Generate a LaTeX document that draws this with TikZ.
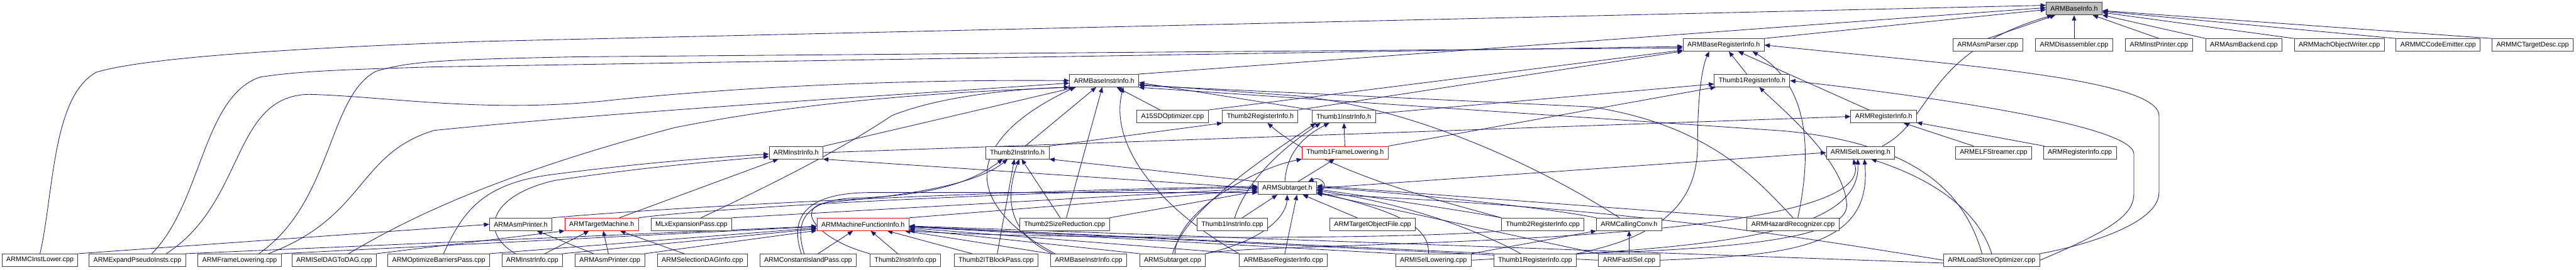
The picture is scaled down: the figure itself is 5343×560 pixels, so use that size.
\documentclass[tikz,border=0pt]{standalone}
\usepackage{fontspec}
\setmainfont{Liberation Sans}
\usetikzlibrary{arrows.meta}
\definecolor{depblue}{RGB}{25,25,112}
\pgfdeclarelayer{background}
\pgfsetlayers{background,main}
\tikzset{
  filenode/.style={draw=black!75, line width=1.2pt, rectangle, fill=white, minimum height=26pt, inner xsep=9pt, inner ysep=0pt, font=\fontsize{14}{16}\selectfont},
  truncnode/.style={filenode, draw=red},
  rootnode/.style={filenode, fill=gray!50},
  dep/.style={draw=depblue, line width=1.1pt, -{Triangle[length=11pt,width=9pt]}}
}
\begin{document}
\begin{tikzpicture}[x=1pt, y=-1pt]
  \useasboundingbox (0,0) rectangle (5343,560);
  % row 0
  \node [rootnode] (baseinfo) at (4302,18) {ARMBaseInfo.h};
  % row 1
  \node [filenode] (baseregh) at (3575,93.5) {ARMBaseRegisterInfo.h};
  \node [filenode] (asmparser) at (4123,93.5) {ARMAsmParser.cpp};
  \node [filenode] (disasm) at (4302,93.5) {ARMDisassembler.cpp};
  \node [filenode] (instprinter) at (4478,93.5) {ARMInstPrinter.cpp};
  \node [filenode] (asmbackend) at (4654,93.5) {ARMAsmBackend.cpp};
  \node [filenode] (machobj) at (4852,93.5) {ARMMachObjectWriter.cpp};
  \node [filenode] (mccodeemit) at (5057,93.5) {ARMMCCodeEmitter.cpp};
  \node [filenode] (mctargetdesc) at (5253,93.5) {ARMMCTargetDesc.cpp};
  % row 2
  \node [filenode] (baseinstrh) at (2290,167.5) {ARMBaseInstrInfo.h};
  \node [filenode] (thumb1regh) at (3634,167.5) {Thumb1RegisterInfo.h};
  % row 3
  \node [filenode] (a15) at (2432,242) {A15SDOptimizer.cpp};
  \node [filenode] (thumb2regh) at (2614,242) {Thumb2RegisterInfo.h};
  \node [filenode] (thumb1instrh) at (2787,242) {Thumb1InstrInfo.h};
  \node [filenode] (armregh) at (3907,242) {ARMRegisterInfo.h};
  % row 4
  \node [filenode] (instrh) at (1651,317) {ARMInstrInfo.h};
  \node [filenode] (thumb2instrh) at (2110,317) {Thumb2InstrInfo.h};
  \node [truncnode] (thumb1frameh) at (2790,317) {Thumb1FrameLowering.h};
  \node [filenode] (isellowh) at (3859,317) {ARMISelLowering.h};
  \node [filenode] (elfstreamer) at (4135,317) {ARMELFStreamer.cpp};
  \node [filenode] (armregcpp) at (4314,317) {ARMRegisterInfo.cpp};
  % row 5
  \node [filenode] (subtargeth) at (2670,391) {ARMSubtarget.h};
  % row 6
  \node [filenode] (asmprinterh) at (1080,466) {ARMAsmPrinter.h};
  \node [truncnode] (targetmachh) at (1248,466) {ARMTargetMachine.h};
  \node [filenode] (mlx) at (1434,466) {MLxExpansionPass.cpp};
  \node [truncnode] (mfih) at (1790,466) {ARMMachineFunctionInfo.h};
  \node [filenode] (t2sizered) at (2208,466) {Thumb2SizeReduction.cpp};
  \node [filenode] (thumb1instrcpp) at (2556,466) {Thumb1InstrInfo.cpp};
  \node [filenode] (tof) at (2847,466) {ARMTargetObjectFile.cpp};
  \node [filenode] (thumb2regcpp) at (3200,466) {Thumb2RegisterInfo.cpp};
  \node [filenode] (callconvh) at (3379,466) {ARMCallingConv.h};
  \node [filenode] (hazard) at (3719,466) {ARMHazardRecognizer.cpp};
  % row 7
  \node [filenode] (mcinstlower) at (83,540.5) {ARMMCInstLower.cpp};
  \node [filenode] (expandpseudo) at (285,540.5) {ARMExpandPseudoInsts.cpp};
  \node [filenode] (framelow) at (497,540.5) {ARMFrameLowering.cpp};
  \node [filenode] (iseldag) at (693,540.5) {ARMISelDAGToDAG.cpp};
  \node [filenode] (optbarriers) at (910,540.5) {ARMOptimizeBarriersPass.cpp};
  \node [filenode] (instrcpp) at (1104,540.5) {ARMInstrInfo.cpp};
  \node [filenode] (asmprintercpp) at (1265,540.5) {ARMAsmPrinter.cpp};
  \node [filenode] (seldaginfo) at (1457,540.5) {ARMSelectionDAGInfo.cpp};
  \node [filenode] (constisland) at (1676,540.5) {ARMConstantIslandPass.cpp};
  \node [filenode] (thumb2instrcpp) at (1878,540.5) {Thumb2InstrInfo.cpp};
  \node [filenode] (t2itblock) at (2066,540.5) {Thumb2ITBlockPass.cpp};
  \node [filenode] (baseinstrcpp) at (2258,540.5) {ARMBaseInstrInfo.cpp};
  \node [filenode] (subtargetcpp) at (2432,540.5) {ARMSubtarget.cpp};
  \node [filenode] (baseregcpp) at (2662,540.5) {ARMBaseRegisterInfo.cpp};
  \node [filenode] (isellowcpp) at (2973,540.5) {ARMISelLowering.cpp};
  \node [filenode] (thumb1regcpp) at (3184,540.5) {Thumb1RegisterInfo.cpp};
  \node [filenode] (fastisel) at (3379,540.5) {ARMFastISel.cpp};
  \node [filenode] (lsopt) at (4131,540.5) {ARMLoadStoreOptimizer.cpp};

  \begin{pgfonlayer}{background}
  % into ARMBaseInfo.h
  \draw [dep] (mcinstlower.north) .. controls (112,400) and (108,200) .. (200,150) .. controls (300,120) and (600,100) .. (1000,86) -- ([yshift=7]baseinfo.west);
  \draw [dep] (baseregh.north east) -- ([yshift=-2]baseinfo.west);
  \draw [dep] (baseinstrh.north east) -- ([yshift=2]baseinfo.west);
  \draw [dep] ([xshift=45]isellowh.north) .. controls (4010,250) and (3990,110) .. ([xshift=-45]baseinfo.south);
  \draw [dep] (asmparser.north) -- (baseinfo);
  \draw [dep] (disasm) -- (baseinfo);
  \draw [dep] (instprinter.north) -- (baseinfo);
  \draw [dep] (asmbackend.north west) -- (baseinfo);
  \draw [dep] (machobj.north west) -- (baseinfo);
  \draw [dep] (mccodeemit.north west) -- (baseinfo);
  \draw [dep] (mctargetdesc.north west) -- (baseinfo);
  % headers
  \draw [dep] (thumb1regh) -- (baseregh);
  \draw [dep] (thumb2regh.north east) -- (baseregh);
  \draw [dep] (armregh) -- (baseregh);
  \draw [dep] (a15) -- (baseinstrh);
  \draw [dep] (a15.north east) -- (baseregh);
  \draw [dep] (thumb1instrh.north west) -- ([yshift=-4]baseinstrh.east);
  \draw [dep] (thumb1instrh) -- (thumb1regh);
  \draw [dep] (thumb2instrh) -- (baseinstrh);
  \draw [dep] (thumb2instrh.north east) -- (thumb2regh.south west);
  \draw [dep] (instrh) -- (baseinstrh);
  \draw [dep] (instrh.east) -- (armregh.west);
  \draw [dep] (thumb1frameh) -- (thumb1instrh);
  \draw [dep] (thumb1frameh.north east) -- (thumb1regh);
  \draw [dep] (elfstreamer) -- (armregh);
  \draw [dep] (armregcpp) -- (armregh);
  % ARMSubtarget.h
  \draw [dep] (subtargeth) -- (thumb1frameh);
  \draw [dep] ([xshift=-5]subtargeth.north) .. controls (2668,330) and (2690,290) .. ([xshift=-30]thumb1instrh.south);
  \draw [dep] (subtargeth.north west) -- (thumb2instrh.south east);
  \draw [dep] (subtargeth.west) -- (instrh.south east);
  \draw [dep] (subtargeth.east) -- (isellowh.west);
  \draw [dep] ([yshift=-4]subtargeth.east) .. controls +(30,2) and +(30,-14) .. ([xshift=-18]subtargeth.north east);
  % row 6
  \draw [dep] (asmprinterh.north east) .. controls (1400,430) and (2000,398) .. ([yshift=4]subtargeth.west);
  \draw [dep] (targetmachh) -- (instrh);
  \draw [dep] (targetmachh.north east) .. controls (1450,435) and (2000,402) .. ([yshift=2]subtargeth.west);
  \draw [dep] ([xshift=20]mlx.north) .. controls (1650,360) and (1760,300) .. (1850,240) .. controls (1950,200) and (2100,185) .. (baseinstrh.south west);
  \draw [dep] (mlx.north east) -- (subtargeth.west);
  \draw [dep] (mfih.north east) -- ([yshift=-3]subtargeth.west);
  \draw [dep] (t2sizered) -- (thumb2instrh);
  \draw [dep] (t2sizered) -- (baseinstrh);
  \draw [dep] (t2sizered.north east) -- ([yshift=-6]subtargeth.west);
  \draw [dep] ([xshift=5]thumb1instrcpp.north) .. controls (2580,390) and (2640,320) .. ([xshift=-48]thumb1instrh.south);
  \draw [dep] (thumb1instrcpp) -- (subtargeth);
  \draw [dep] (tof) -- (subtargeth);
  \draw [dep] (thumb2regcpp.north west) .. controls (3000,420) and (2750,360) .. ([xshift=15]thumb2regh.south);
  \draw [dep] (thumb2regcpp.north west) .. controls (3050,440) and (2850,410) .. ([yshift=-2]subtargeth.east);
  \draw [dep] (thumb2regcpp.south west) .. controls (2900,500) and (2100,495) .. (mfih.south east);
  \draw [dep] ([xshift=-20]callconvh.north) .. controls (3200,350) and (2950,230) .. (2700,200) -- ([yshift=-8]baseinstrh.east);
  \draw [dep] (callconvh.north west) .. controls (3200,430) and (2900,400) .. ([yshift=2]subtargeth.east);
  \draw [dep] (hazard.north) .. controls (3650,380) and (3550,260) .. (3300,222) -- ([yshift=-10]baseinstrh.east);
  \draw [dep] ([xshift=10]hazard.north) .. controls (3755,330) and (3760,180) .. ([xshift=60]baseregh.south);
  \draw [dep] (hazard.north west) -- ([yshift=5]subtargeth.east);
  % row 7, left part
  \draw [dep] (mcinstlower.north east) -- (asmprinterh.west);
  \draw [dep] ([xshift=30]expandpseudo.north) .. controls (420,420) and (420,200) .. (540,160) .. controls (620,148) and (700,145) .. (900,139) -- ([yshift=-3]baseregh.west);
  \draw [dep] ([xshift=60]expandpseudo.north) .. controls (510,420) and (480,200) .. (640,196) .. controls (800,200) and (1000,235) .. (1250,210) .. controls (1550,178) and (1900,165) .. (baseinstrh.west);
  \draw [dep] (expandpseudo.north east) -- (mfih);
  \draw [dep] ([xshift=40]framelow.north) .. controls (690,420) and (680,200) .. (780,148) .. controls (850,128) and (900,124) .. (1200,118) -- ([yshift=-6]baseregh.west);
  \draw [dep] ([xshift=60]framelow.north) .. controls (760,450) and (740,320) .. (900,271) .. controls (1300,230) and (1900,195) .. ([yshift=-5]baseinstrh.west);
  \draw [dep] (framelow.north east) -- (mfih);
  \draw [dep] ([xshift=30]iseldag.north) .. controls (820,470) and (1000,370) .. (1400,265) .. controls (1700,205) and (2000,190) .. ([xshift=10]baseinstrh.south west);
  \draw [dep] (iseldag.north east) -- (targetmachh.south west);
  \draw [dep] ([xshift=10]optbarriers.north) .. controls (960,440) and (1000,380) .. (1150,362) .. controls (1350,336) and (1500,326) .. ([yshift=-3]instrh.west);
  \draw [dep] (optbarriers.north east) -- (mfih);
  \draw [dep] ([xshift=-35]instrcpp.north) .. controls (990,480) and (1020,405) .. (1150,375) .. controls (1350,345) and (1500,334) .. ([yshift=-8]instrh.west);
  \draw [dep] (instrcpp) -- (targetmachh);
  \draw [dep] (instrcpp.north east) -- (mfih);
  \draw [dep] (asmprintercpp) -- (asmprinterh);
  \draw [dep] (asmprintercpp) -- (targetmachh);
  \draw [dep] (asmprintercpp.north east) -- (mfih);
  \draw [dep] (seldaginfo) -- (targetmachh);
  \draw [dep] (constisland) -- (mfih);
  \draw [dep] ([xshift=-8]constisland.north) .. controls (1650,470) and (1660,420) .. (1760,412) .. controls (1900,408) and (2000,390) .. ([xshift=-30]thumb2instrh.south);
  \draw [dep] ([xshift=-14]constisland.north) .. controls (1640,460) and (1660,402) .. (1800,400) -- ([yshift=-9]subtargeth.west);
  \draw [dep] (thumb2instrcpp) -- (mfih);
  \draw [dep] (thumb2instrcpp.north west) .. controls (1700,500) and (1640,430) .. (1720,420) .. controls (1900,405) and (2030,380) .. ([xshift=-20]thumb2instrh.south);
  \draw [dep] (t2itblock) -- (mfih);
  \draw [dep] (t2itblock) -- ([xshift=-6]thumb2instrh.south);
  \draw [dep] ([xshift=-70]baseinstrcpp.north) .. controls (1990,420) and (2000,290) .. ([xshift=-60]baseinstrh.south);
  \draw [dep] ([xshift=-75]baseinstrcpp.north) .. controls (2100,490) and (2080,420) .. ([xshift=4]thumb2instrh.south);
  \draw [dep] (baseinstrcpp.north west) -- (mfih);
  % row 7, right part
  \draw [dep] (subtargetcpp.north east) .. controls (2620,500) and (2668,450) .. (subtargeth.south);
  \draw [dep] ([xshift=5]subtargetcpp.north) .. controls (2440,440) and (2600,350) .. (thumb1frameh.south west);
  \draw [dep] (subtargetcpp.north) .. controls (2460,430) and (2650,310) .. ([xshift=-58]thumb1instrh.south);
  \draw [dep] (subtargetcpp.north west) -- (mfih);
  \draw [dep] (subtargetcpp.north east) .. controls (2600,500) and (3900,520) .. ([xshift=-15]isellowh.south);
  \draw [dep] (baseregcpp) -- ([xshift=20]subtargeth.south);
  \draw [dep] (baseregcpp.north west) .. controls (2400,430) and (2300,300) .. ([xshift=40]baseinstrh.south);
  \draw [dep] (baseregcpp.north west) -- (mfih);
  \draw [dep] ([xshift=-10]isellowcpp.north) .. controls (2965,470) and (2900,440) .. ([yshift=-8]subtargeth.east);
  \draw [dep] (isellowcpp.east) .. controls (3500,515) and (3862,500) .. ([xshift=-6]isellowh.south);
  \draw [dep] (isellowcpp.north east) -- (callconvh.south west);
  \draw [dep] (isellowcpp.north west) -- (mfih);
  \draw [dep] (thumb1regcpp.north east) .. controls (3450,490) and (3521,420) .. (3521,300) .. controls (3521,200) and (3530,140) .. ([xshift=-30]baseregh.south);
  \draw [dep] (thumb1regcpp.north east) .. controls (3700,515) and (3840,480) .. (3830,420) .. controls (3820,330) and (3700,230) .. ([xshift=15]thumb1regh.south);
  \draw [dep] ([xshift=-30]thumb1regcpp.north) .. controls (3050,470) and (2900,420) .. ([yshift=-5]subtargeth.east);
  \draw [dep] (thumb1regcpp.north west) -- (mfih);
  \draw [dep] (fastisel) -- (callconvh);
  \draw [dep] (fastisel.east) .. controls (3700,530) and (3885,520) .. ([xshift=8]isellowh.south);
  \draw [dep] (fastisel.north west) -- ([yshift=-10]subtargeth.east);
  \draw [dep] (fastisel.west) -- (mfih);
  \draw [dep] (lsopt.north east) .. controls (4300,515) and (4478,470) .. (4478,400) -- (4478,240) .. controls (4478,160) and (4000,130) .. (baseregh.east);
  \draw [dep] (lsopt.east) .. controls (4400,470) and (4426,440) .. (4426,400) -- (4426,320) .. controls (4426,260) and (4000,200) .. (thumb1regh.east);
  \draw [dep] (lsopt.north) .. controls (4100,430) and (4000,370) .. ([xshift=22]isellowh.south);
  \draw [dep] ([xshift=-20]lsopt.north) .. controls (4080,420) and (4000,300) .. (3700,272) -- ([yshift=-14]baseinstrh.east);
  \draw [dep] (lsopt.west) .. controls (3600,470) and (3300,430) .. ([yshift=-12]subtargeth.east);
  \draw [dep] ([yshift=-6]lsopt.west) -- (mfih);
  \end{pgfonlayer}
\end{tikzpicture}
\end{document}
